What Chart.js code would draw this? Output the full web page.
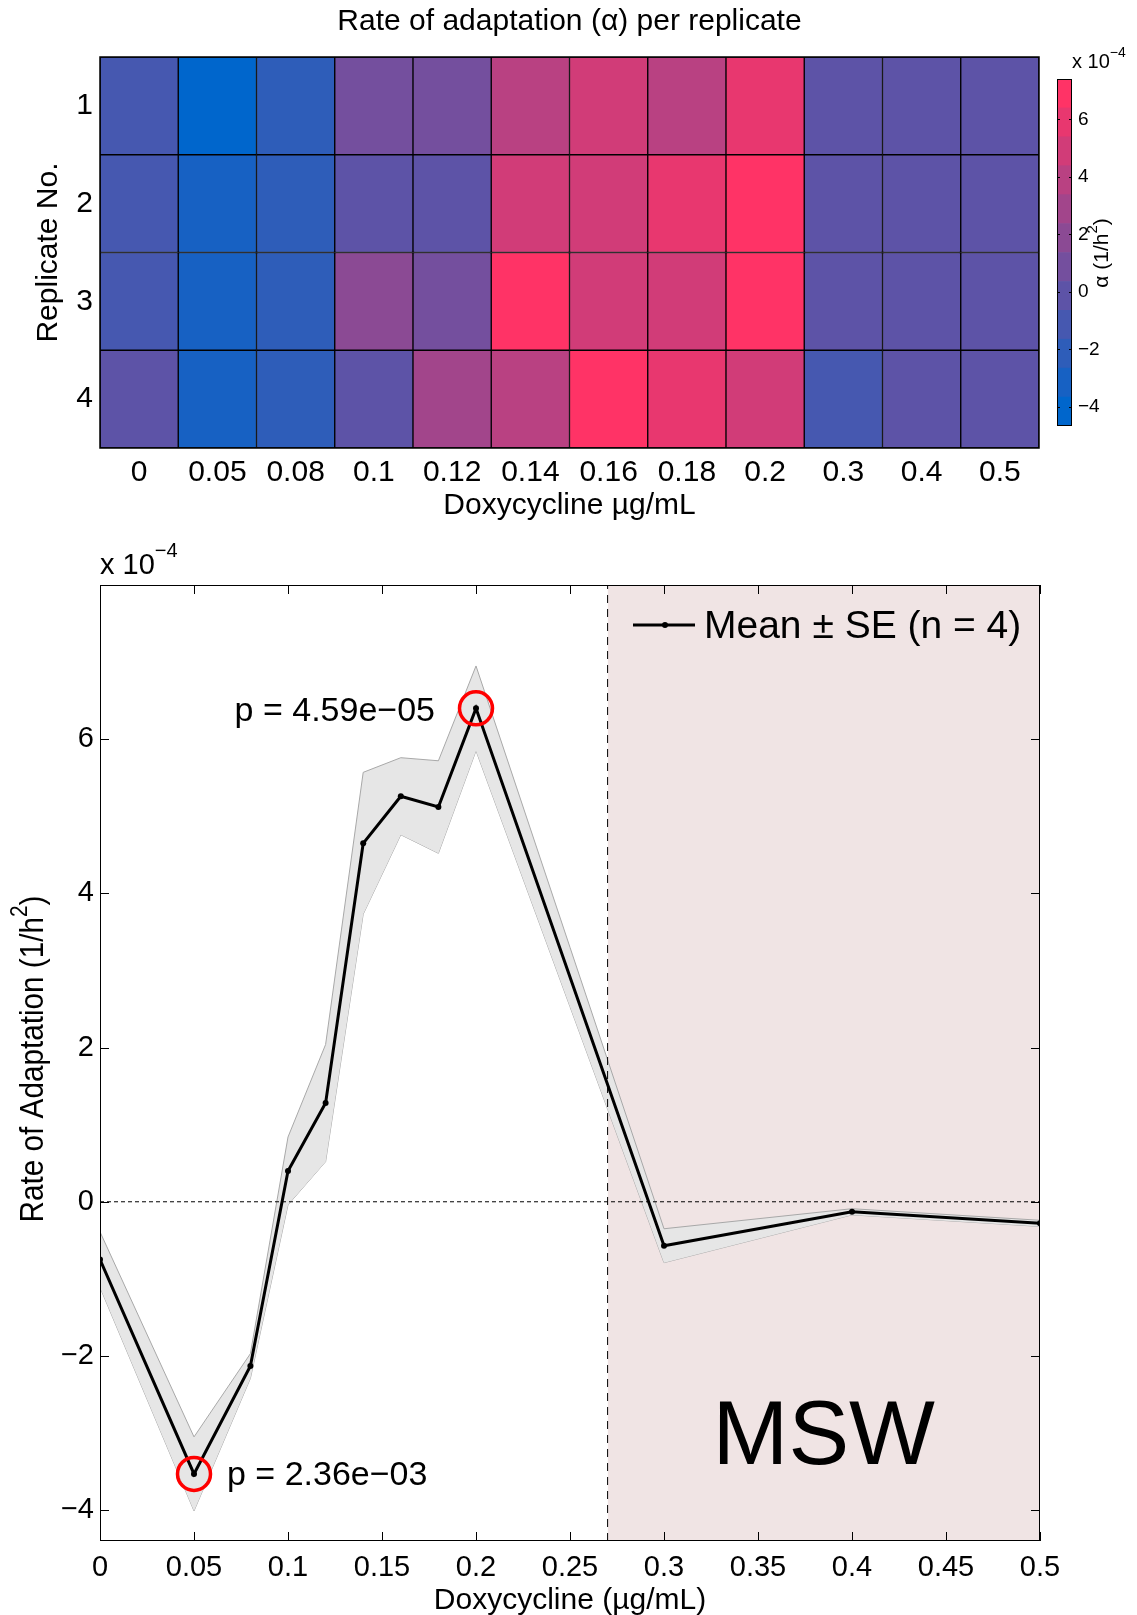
<!DOCTYPE html>
<html><head><meta charset="utf-8">
<script src="https://cdn.jsdelivr.net/npm/chart.js@4.4.0/dist/chart.umd.min.js"></script>
<style>
html,body{margin:0;padding:0;background:#fff;}
#wrap{position:relative;width:1137px;height:1615px;background:#fff;}
canvas{position:absolute;left:0;}
</style></head><body>
<div id="wrap">
<canvas id="heat" width="1137" height="530" style="top:0"></canvas>
<canvas id="cbar" width="1137" height="530" style="top:0"></canvas>
<canvas id="line" width="1137" height="1085" style="top:530px"></canvas>
</div>
<script>
// ---------------- DATA ----------------
const doses = [0, 0.05, 0.08, 0.1, 0.12, 0.14, 0.16, 0.18, 0.2, 0.3, 0.4, 0.5];
const doseLabels = ['0','0.05','0.08','0.1','0.12','0.14','0.16','0.18','0.2','0.3','0.4','0.5'];
const replicateTicks = [1, 2, 3, 4];
// alpha per replicate (x 1e-4 1/h^2)
const rep1 = [-0.9, -4.4, -2.0,  0.8, 1.3, 3.8, 4.6, 4.2, 6.2, -0.40, -0.10, -0.25];
const rep2 = [-1.0, -3.4, -2.3, -0.3, 0.3, 4.7, 4.8, 5.8, 7.0, -0.50, -0.15, -0.30];
const rep3 = [-0.8, -3.1, -2.1,  1.5, 1.0, 6.6, 4.9, 4.9, 7.2, -0.40, -0.10, -0.28];
const rep4 = [-0.3, -3.2, -2.1, -0.4, 2.5, 3.5, 6.7, 5.6, 5.2, -0.96, -0.17, -0.29];
// mean and SE (x 1e-4)
const meanRate = [-0.75, -3.53, -2.13, 0.40, 1.28, 4.65, 5.26, 5.12, 6.40, -0.57, -0.13, -0.28];
const seRate   = [ 0.36,  0.48,  0.16, 0.44, 0.76, 0.92, 0.50, 0.60, 0.55,  0.22,  0.04,  0.04];
const sigIndex = [1, 8];
const sigLabels = ['p = 2.36e\u221203', 'p = 4.59e\u221205'];
const mswStart = 0.27;
const xTickVals = [0, 0.05, 0.1, 0.15, 0.2, 0.25, 0.3, 0.35, 0.4, 0.45, 0.5];
const yTickVals = [-4, -2, 0, 2, 4, 6];
const cbarTicks = [-4, -2, 0, 2, 4, 6];
const climMin = -4.66, climMax = 7.40;
const cmapColors = ['#0066cc','#1761c3','#2e5db9','#4658b0','#5d53a7','#744f9e',
                    '#8b4a94','#a2458b','#b94182','#d13c78','#e8376f','#ff3366'];

// ---------------- HELPERS ----------------
const FONT = '"Liberation Sans", Arial, Helvetica, sans-serif';
Chart.defaults.font.family = FONT;
Chart.defaults.color = '#000';
const minus = s => String(s).replace(/-/g, '\u2212');
function fmtNum(v){ return minus(parseFloat(Number(v).toFixed(3)).toString()); }
function colorFor(v){
  const n = cmapColors.length;
  let k = Math.floor((v - climMin) / (climMax - climMin) * n);
  k = Math.max(0, Math.min(n - 1, k));
  return cmapColors[k];
}
// rich text: parts = [{t, size, dy}]; sx = horizontal squeeze
function drawRich(ctx, parts, x, y, align, sx){
  sx = sx || 1;
  ctx.save();
  ctx.translate(x, y); ctx.scale(sx, 1);
  let w = 0;
  parts.forEach(p => { ctx.font = p.size + 'px ' + FONT; p.w = ctx.measureText(p.t).width; w += p.w; });
  let cx = align === 'center' ? -w/2 : (align === 'right' ? -w : 0);
  ctx.textAlign = 'left'; ctx.textBaseline = 'middle';
  parts.forEach(p => { ctx.font = p.size + 'px ' + FONT; ctx.fillText(p.t, cx, (p.dy||0)); cx += p.w; });
  ctx.restore();
}
const base = {responsive:false, animation:false, events:[], maintainAspectRatio:false,
  plugins:{legend:{display:false}, tooltip:{enabled:false}, title:{display:false}}};

// ---------------- HEATMAP ----------------
const replicates = [rep1, rep2, rep3, rep4];
const heatOverlay = {
  id:'heatOverlay',
  afterDraw(chart){
    const {ctx, chartArea:a} = chart;
    ctx.save();
    ctx.strokeStyle = '#000'; ctx.lineWidth = 1.5;
    ctx.strokeRect(a.left, a.top, a.right - a.left, a.bottom - a.top);
    ctx.fillStyle = '#000';
    const cx = (a.left + a.right) / 2;
    drawRich(ctx, [{t:'Rate of adaptation (\u03b1) per replicate', size:30}], cx, 22, 'center');
    drawRich(ctx, [{t:'Doxycycline \u00b5g/mL', size:30}], cx, 506, 'center');
    ctx.translate(49, (a.top + a.bottom) / 2); ctx.rotate(-Math.PI/2);
    drawRich(ctx, [{t:'Replicate No.', size:30}], 0, 0, 'center');
    ctx.restore();
  }
};
new Chart(document.getElementById('heat'), {
  type:'bar',
  data:{ labels: doseLabels,
    datasets: replicates.map((vals, r) => ({
      data: vals.map(() => [replicateTicks[r] - 0.5, replicateTicks[r] + 0.5]),
      backgroundColor: vals.map(colorFor),
      borderColor:'#000', borderWidth:1, borderSkipped:false,
      barPercentage:1, categoryPercentage:1, grouped:false
    }))
  },
  options: Object.assign({}, base, {
    layout:{padding:{left:0, top:57, right:98, bottom:0}},
    scales:{
      x:{ type:'category', grid:{display:false, drawTicks:false}, border:{display:false},
          ticks:{font:{size:30}, padding:7, maxRotation:0, autoSkip:false},
          afterFit(s){ s.height = 82; } },
      y:{ type:'linear', min:0.5, max:4.5, reverse:true, grid:{display:false, drawTicks:false}, border:{display:false},
          ticks:{font:{size:30}, padding:7, callback:v => fmtNum(v)},
          afterBuildTicks(s){ s.ticks = replicateTicks.map(v => ({value:v})); },
          afterFit(s){ s.width = 100; } }
    }
  }),
  plugins:[heatOverlay]
});

// ---------------- COLORBAR ----------------
const cbarStep = (climMax - climMin) / cmapColors.length;
const cbarOverlay = {
  id:'cbarOverlay',
  afterDraw(chart){
    const {ctx, chartArea:a} = chart;
    const ys = chart.scales.y;
    ctx.save();
    ctx.strokeStyle = '#000'; ctx.lineWidth = 1;
    ctx.strokeRect(a.left + 0.5, a.top + 0.5, a.right - a.left - 1, a.bottom - a.top - 1);
    cbarTicks.forEach(v => {
      const y = Math.round(ys.getPixelForValue(v)) + 0.5;
      ctx.beginPath(); ctx.moveTo(a.left, y); ctx.lineTo(a.left + 3, y);
      ctx.moveTo(a.right, y); ctx.lineTo(a.right - 3, y); ctx.stroke();
    });
    ctx.fillStyle = '#000';
    drawRich(ctx, [{t:'x 10', size:20}, {t:'\u22124', size:14, dy:-9}], a.left + 15, 62, 'left');
    ctx.translate(1102, 253); ctx.rotate(-Math.PI/2);
    drawRich(ctx, [{t:'\u03b1 (1/h', size:21}, {t:'2', size:15, dy:-9}, {t:')', size:21}], 0, 0, 'center');
    ctx.restore();
  }
};
new Chart(document.getElementById('cbar'), {
  type:'bar',
  data:{ labels:[''],
    datasets: cmapColors.map((c, k) => ({
      data:[[climMin + k * cbarStep, climMin + (k + 1) * cbarStep]],
      backgroundColor:c, borderWidth:0, barPercentage:1, categoryPercentage:1, grouped:false
    }))
  },
  options: Object.assign({}, base, {
    layout:{padding:{left:1057, top:79, right:0, bottom:104}},
    scales:{
      x:{ display:false },
      y:{ position:'right', min:climMin, max:climMax, grid:{display:false, drawTicks:false}, border:{display:false},
          ticks:{font:{size:19}, padding:6, callback:v => fmtNum(v)},
          afterBuildTicks(s){ s.ticks = cbarTicks.map(v => ({value:v})); },
          afterFit(s){ s.width = 65; } }
    }
  }),
  plugins:[cbarOverlay]
});

// ---------------- MEAN +- SE LINE ----------------
const pts = arr => doses.map((d, i) => ({x:d, y:arr[i]}));
const bandUpper = meanRate.map((m, i) => m + seRate[i]);
const bandLower = meanRate.map((m, i) => m - seRate[i]);
const X_MIN = 0, X_MAX = 0.5, Y_MIN = -4.4, Y_MAX = 8;

const lineOverlay = {
  id:'lineOverlay',
  afterDraw(chart){
    const {ctx, chartArea:a} = chart;
    const xs = chart.scales.x, ys = chart.scales.y;
    ctx.save();
    // frame
    ctx.strokeStyle = '#000'; ctx.lineWidth = 1;
    ctx.strokeRect(Math.round(a.left) + 0.5, Math.round(a.top) + 0.5, Math.round(a.right - a.left) - 1, Math.round(a.bottom - a.top) - 1);
    // inward ticks
    const TL = 9;
    ctx.beginPath();
    xTickVals.forEach(v => {
      const x = Math.round(xs.getPixelForValue(v)) + 0.5;
      ctx.moveTo(x, a.bottom); ctx.lineTo(x, a.bottom - TL);
      ctx.moveTo(x, a.top); ctx.lineTo(x, a.top + TL);
    });
    yTickVals.forEach(v => {
      const y = Math.round(ys.getPixelForValue(v)) + 0.5;
      ctx.moveTo(a.left, y); ctx.lineTo(a.left + TL, y);
      ctx.moveTo(a.right, y); ctx.lineTo(a.right - TL, y);
    });
    ctx.stroke();
    ctx.fillStyle = '#000';
    // exponent
    drawRich(ctx, [{t:'x 10', size:29}, {t:'\u22124', size:20, dy:-15}], a.left, 36, 'left');
    // p-value labels
    sigIndex.forEach((idx, k) => {
      const px = xs.getPixelForValue(doses[idx]), py = ys.getPixelForValue(meanRate[idx]);
      if (meanRate[idx] < 0) drawRich(ctx, [{t:sigLabels[k], size:34}], px + 33, py + 2, 'left');
      else drawRich(ctx, [{t:sigLabels[k], size:34}], px - 41, py + 3, 'right');
    });
    // legend
    const ly = a.top + 40, lx = a.right - 407;
    ctx.strokeStyle = '#000'; ctx.lineWidth = 3;
    ctx.beginPath(); ctx.moveTo(lx, ly); ctx.lineTo(lx + 62, ly); ctx.stroke();
    ctx.beginPath(); ctx.arc(lx + 32, ly, 3, 0, Math.PI * 2); ctx.fill();
    drawRich(ctx, [{t:'Mean \u00b1 SE (n = 4)', size:39}], lx + 71, ly + 2, 'left');
    // MSW
    drawRich(ctx, [{t:'MSW', size:91}], xs.getPixelForValue((mswStart + X_MAX) / 2), ys.getPixelForValue(-3.07), 'center');
    // axis titles
    drawRich(ctx, [{t:'Doxycycline (\u00b5g/mL)', size:30}], (a.left + a.right) / 2, 1071, 'center');
    ctx.translate(34, (a.top + a.bottom) / 2 - 4); ctx.rotate(-Math.PI/2);
    drawRich(ctx, [{t:'Rate of Adaptation (1/h', size:33}, {t:'2', size:23, dy:-13}, {t:')', size:33}], 0, 0, 'center', 0.9);
    ctx.restore();
  }
};

new Chart(document.getElementById('line'), {
  type:'line',
  data:{ datasets:[
    { // MSW shaded region
      data:[{x:mswStart, y:Y_MAX}, {x:X_MAX, y:Y_MAX}], fill:'start',
      backgroundColor:'#f0e4e4', borderWidth:0, pointRadius:0, order:10 },
    { // zero line
      data:[{x:X_MIN, y:0}, {x:X_MAX, y:0}], borderColor:'#000', borderWidth:1,
      borderDash:[4,3], pointRadius:0, fill:false, order:3 },
    { // MSW boundary
      data:[{x:mswStart, y:Y_MIN}, {x:mswStart, y:Y_MAX}], borderColor:'#000', borderWidth:1,
      borderDash:[8,6], pointRadius:0, fill:false, order:3 },
    { // SE band upper
      data:pts(bandUpper), borderColor:'#a8a8a8', borderWidth:1, pointRadius:0,
      fill:'+1', backgroundColor:'#e6e6e6', tension:0, order:6 },
    { // SE band lower
      data:pts(bandLower), borderColor:'#a8a8a8', borderWidth:1, pointRadius:0,
      fill:false, tension:0, order:6 },
    { // mean
      data:pts(meanRate), borderColor:'#000', borderWidth:3, pointRadius:3,
      pointBackgroundColor:'#000', pointBorderWidth:0, fill:false, tension:0, order:1 },
    { // significance circles
      data:sigIndex.map(i => ({x:doses[i], y:meanRate[i]})), showLine:false,
      pointRadius:16.5, pointBorderWidth:3.5, pointBorderColor:'#ff0000',
      pointBackgroundColor:'rgba(0,0,0,0)', order:0 }
  ]},
  options: Object.assign({}, base, {
    layout:{padding:{left:0, top:55, right:97, bottom:0}},
    scales:{
      x:{ type:'linear', min:X_MIN, max:X_MAX, grid:{display:false, drawTicks:false}, border:{display:false},
          ticks:{font:{size:29}, padding:10, maxRotation:0, autoSkip:false, callback:v => fmtNum(v)},
          afterBuildTicks(s){ s.ticks = xTickVals.map(v => ({value:v})); },
          afterFit(s){ s.height = 74; } },
      y:{ type:'linear', min:Y_MIN, max:Y_MAX, grid:{display:false, drawTicks:false}, border:{display:false},
          ticks:{font:{size:29}, padding:6, callback:v => fmtNum(v)},
          afterBuildTicks(s){ s.ticks = yTickVals.map(v => ({value:v})); },
          afterFit(s){ s.width = 100; } }
    }
  }),
  plugins:[lineOverlay]
});
</script>
</body></html>
